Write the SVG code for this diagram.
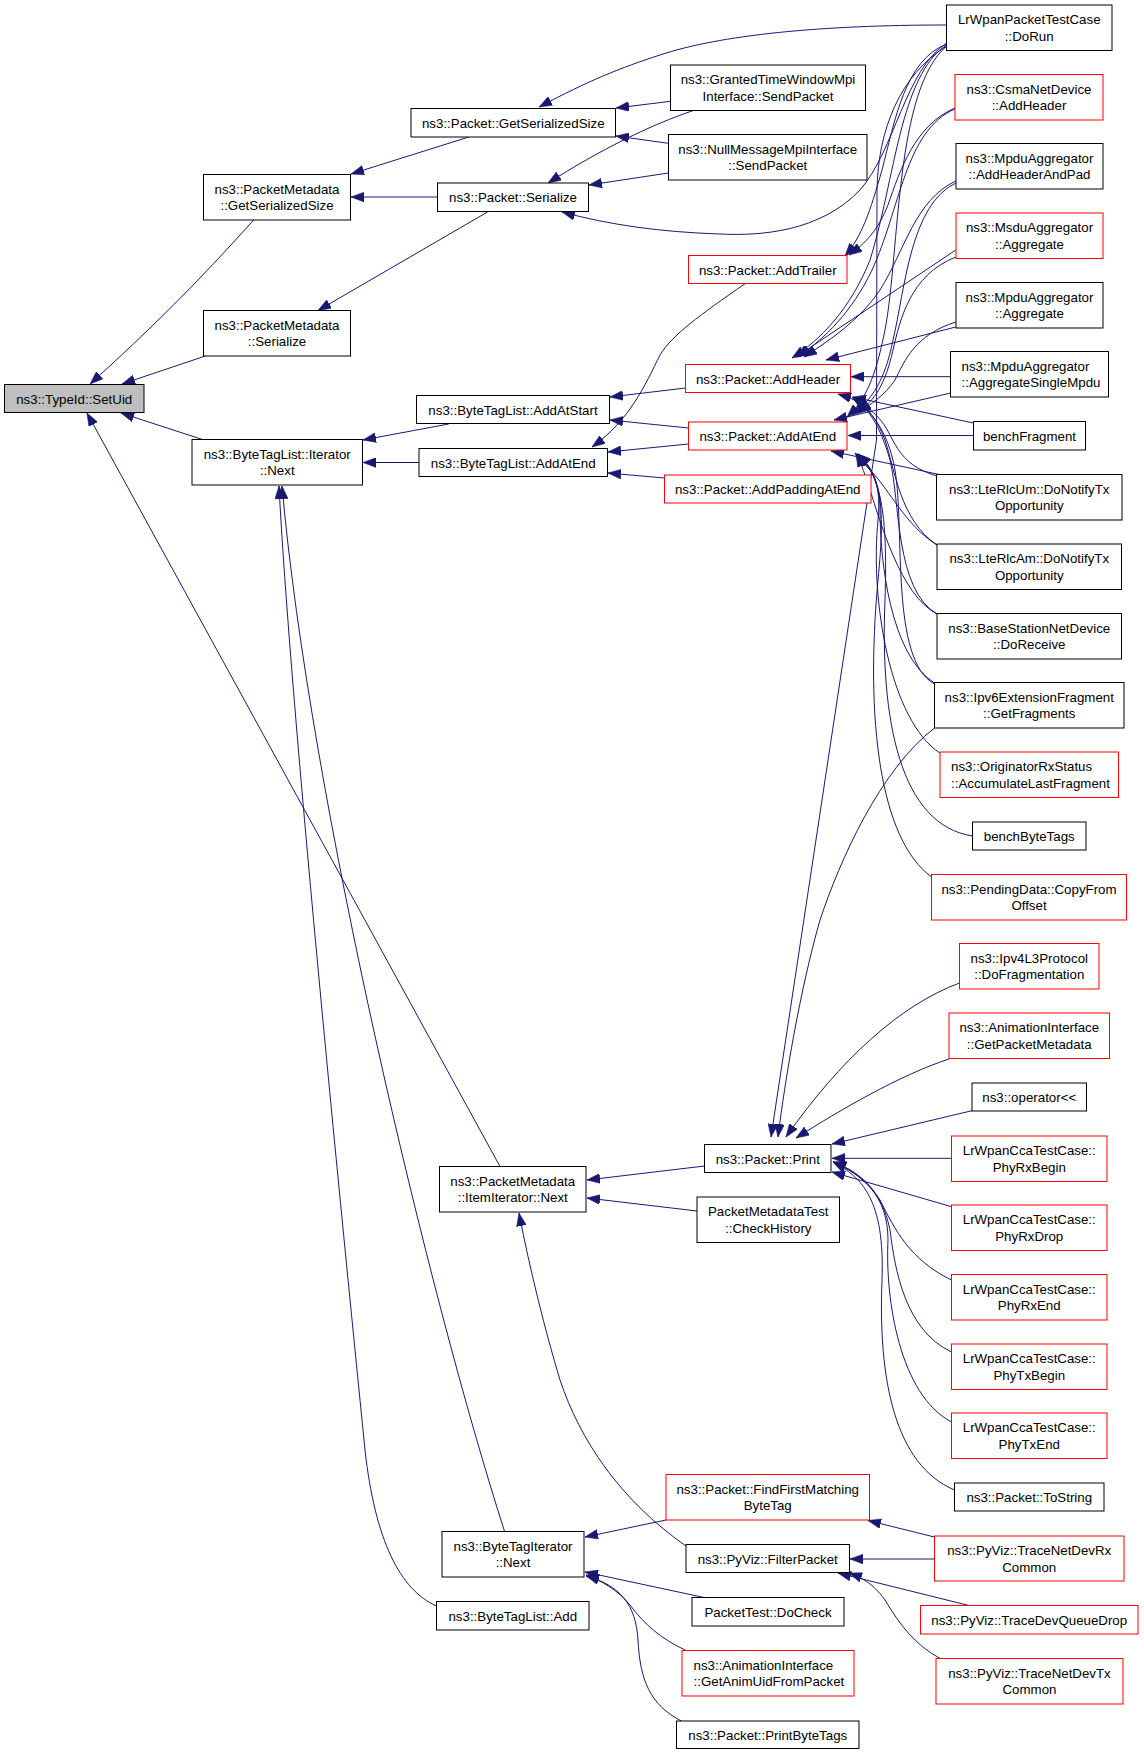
<svg xmlns="http://www.w3.org/2000/svg" width="1144" height="1755" viewBox="0 0 1144 1755">
<style>
.n rect{fill:#fff;stroke:#000;stroke-width:1}
.n.r rect{stroke:#f00}
.n text{font-family:"Liberation Sans",Arial,sans-serif;font-size:13.3px;fill:#000;text-anchor:middle}
.n text.l{text-anchor:start}
#edges path{fill:none;stroke:#191970;stroke-width:1;marker-end:url(#a)}
</style>
<defs>
<marker id="a" markerUnits="userSpaceOnUse" markerWidth="13" markerHeight="10" viewBox="0 0 12 9" refX="12" refY="4.5" orient="auto">
<path d="M0,0 L12,4.5 L0,9 z" fill="#191970" stroke="#191970" stroke-width="0.5"/>
</marker>
</defs>
<rect width="1144" height="1755" fill="#fff"/>
<g id="edges">
<path d="M253.6,220 C200,280 150,330 90,384"/>
<path d="M205.4,356 L122,384"/>
<path d="M204,440 L121,413"/>
<path d="M500,1166.5 L87,413"/>
<path d="M504.6,1531.5 C430,1300 310,800 282,486"/>
<path d="M436.5,1606 C400,1590 375,1540 365,1450 C340,1200 290,700 279,486"/>
<path d="M448.7,424 L363,440"/>
<path d="M419,462.5 L363,462.5"/>
<path d="M468.8,137 L351,174"/>
<path d="M437.5,197 L351,197"/>
<path d="M488,211.7 L318,310.5"/>
<path d="M946.7,25 C820,25 720,35 660,55 C620,68 590,80 539,107"/>
<path d="M670.5,101.3 L616,108"/>
<path d="M668.3,143.3 L616,136"/>
<path d="M694,110.3 C650,125 600,150 548,183"/>
<path d="M668.3,173 L589,185"/>
<path d="M946.7,43 C905,70 895,150 860,190 C820,232 760,236 720,234 C660,232 610,225 562,212"/>
<path d="M685.5,388 L610,397"/>
<path d="M688.4,428 L610,420"/>
<path d="M688.5,444 L608,452"/>
<path d="M664.3,478 L608,473"/>
<path d="M745,283.7 C700,315 672,335 660,355 C645,385 630,420 592,447"/>
<path d="M946.7,44 C905,60 895,120 882,170 C870,212 862,236 845,256"/>
<path d="M955,108 C915,125 900,170 888,205 C878,230 866,243 849,255"/>
<path d="M946.7,45 C900,75 895,180 870,260 C850,310 820,340 792,358"/>
<path d="M955,109 C905,130 900,210 872,270 C852,312 825,338 798,357"/>
<path d="M955.8,181 C915,200 905,250 880,290 C860,320 830,340 804,357"/>
<path d="M955.8,250 L796,357"/>
<path d="M955.8,327 L826,360"/>
<path d="M950.7,376.7 L851,376.7"/>
<path d="M973.3,423 L853,397"/>
<path d="M937,476 C910,468 900,455 890,435 C880,415 865,402 838,394"/>
<path d="M937,545 C900,520 895,470 885,440 C875,415 865,405 852,397"/>
<path d="M937,614 C895,590 900,500 890,460 C880,425 868,408 853,398"/>
<path d="M934.5,684 C890,660 905,530 895,470 C888,430 870,410 854,398"/>
<path d="M946.7,46 C895,90 900,250 885,330 C875,380 865,400 847,417"/>
<path d="M955.8,183 C910,205 905,290 893,340 C885,380 872,400 852,415"/>
<path d="M955.8,257 C910,275 900,320 893,350 C885,385 875,400 858,412"/>
<path d="M955.8,322 C915,335 905,360 895,380 C885,395 870,405 858,413"/>
<path d="M950.7,393 L834,420"/>
<path d="M973.3,435.5 L848,435.5"/>
<path d="M940,474.7 L831,451"/>
<path d="M937,545 C905,525 890,490 870,470 C865,465 860,458 855,453"/>
<path d="M937,614 C900,595 880,520 870,490 C865,475 862,465 856,454"/>
<path d="M934.5,683 C890,655 880,560 880,510 C880,480 868,465 857,454"/>
<path d="M939.8,753 C890,720 870,600 878,520 C882,480 870,465 857,454"/>
<path d="M972.6,836 C900,825 880,720 885,600 C888,510 880,475 858,454"/>
<path d="M931.7,877 C880,840 865,720 878,580 C886,500 880,475 858,454"/>
<path d="M946.7,46 C900,75 878,130 877,190 L876.5,440 L771,1137"/>
<path d="M934.5,728 C880,770 840,860 820,920 C800,990 785,1080 778,1137"/>
<path d="M959.5,983 C900,1005 840,1060 786,1137"/>
<path d="M949,1059 C900,1075 840,1110 796,1138"/>
<path d="M972,1110.7 L832,1144"/>
<path d="M951.5,1158.3 L832,1158.3"/>
<path d="M951.5,1206.7 L832,1172"/>
<path d="M951.5,1280 C910,1260 895,1230 880,1200 C865,1178 850,1168 833,1162"/>
<path d="M951.5,1352 C905,1330 895,1270 890,1230 C882,1190 860,1172 833,1162"/>
<path d="M951.5,1422 C900,1395 885,1300 888,1240 C888,1195 862,1175 833,1162"/>
<path d="M954.5,1490 C895,1465 878,1380 882,1280 C885,1200 862,1177 833,1162"/>
<path d="M704.5,1166 L587,1180"/>
<path d="M697,1211 L587,1198"/>
<path d="M686,1546 C620,1500 580,1440 560,1380 C545,1330 530,1270 519,1213"/>
<path d="M934.3,1537 L868,1520.5"/>
<path d="M934.3,1559 L850,1559"/>
<path d="M969.7,1605.7 L838,1573"/>
<path d="M940.5,1658.7 C915,1645 900,1625 885,1600 C872,1582 860,1577 849,1573"/>
<path d="M666,1520 L585,1537"/>
<path d="M705,1597.7 L585,1572"/>
<path d="M686,1650.5 C660,1638 645,1625 630,1605 C618,1590 600,1580 586,1575"/>
<path d="M681.5,1721 C650,1705 640,1680 638,1640 C636,1605 620,1585 586,1576"/>
</g>
<g id="n_setuid" class="n"><rect x="4.5" y="384.5" width="139.5" height="28" style="fill:#bfbfbf"/><text x="74.25" y="403.5">ns3::TypeId::SetUid</text></g>
<g id="n_pm_gss" class="n"><rect x="203.5" y="174.5" width="147" height="45.5"/><text x="277" y="193.5">ns3::PacketMetadata</text><text x="277" y="210">::GetSerializedSize</text></g>
<g id="n_pm_ser" class="n"><rect x="203.5" y="310.5" width="147" height="45.5"/><text x="277" y="329.5">ns3::PacketMetadata</text><text x="277" y="346">::Serialize</text></g>
<g id="n_btl_iter" class="n"><rect x="192" y="439.5" width="170.5" height="45.5"/><text x="277.25" y="458.5">ns3::ByteTagList::Iterator</text><text x="277.25" y="475">::Next</text></g>
<g id="n_pm_item" class="n"><rect x="439.5" y="1166.5" width="146.5" height="45.5"/><text x="512.75" y="1185.5">ns3::PacketMetadata</text><text x="512.75" y="1202">::ItemIterator::Next</text></g>
<g id="n_bti_next" class="n"><rect x="442" y="1531.5" width="142" height="45.5"/><text x="513" y="1550.5">ns3::ByteTagIterator</text><text x="513" y="1567">::Next</text></g>
<g id="n_btl_add" class="n"><rect x="436.5" y="1601.5" width="152.5" height="28.5"/><text x="512.75" y="1620.5">ns3::ByteTagList::Add</text></g>
<g id="n_p_gss" class="n"><rect x="411" y="108.5" width="204.5" height="28.5"/><text x="513.25" y="127.5">ns3::Packet::GetSerializedSize</text></g>
<g id="n_p_ser" class="n"><rect x="437.5" y="183" width="151" height="28.5"/><text x="513" y="202">ns3::Packet::Serialize</text></g>
<g id="n_btl_start" class="n"><rect x="416.5" y="395.5" width="193" height="28"/><text x="513" y="414.5">ns3::ByteTagList::AddAtStart</text></g>
<g id="n_btl_end" class="n"><rect x="419" y="448.5" width="188.5" height="28"/><text x="513.25" y="467.5">ns3::ByteTagList::AddAtEnd</text></g>
<g id="n_dorun" class="n"><rect x="946.5" y="5" width="165.5" height="45.5"/><text x="1029.25" y="24">LrWpanPacketTestCase</text><text x="1029.25" y="40.5">::DoRun</text></g>
<g id="n_gtw" class="n"><rect x="670.5" y="65" width="195" height="45.5"/><text x="768" y="84">ns3::GrantedTimeWindowMpi</text><text x="768" y="100.5">Interface::SendPacket</text></g>
<g id="n_null" class="n"><rect x="668.5" y="134.5" width="198.5" height="45.5"/><text x="767.75" y="153.5">ns3::NullMessageMpiInterface</text><text x="767.75" y="170">::SendPacket</text></g>
<g id="n_csma" class="n r"><rect x="955" y="74.5" width="148" height="45.5"/><text x="1029" y="93.5">ns3::CsmaNetDevice</text><text x="1029" y="110">::AddHeader</text></g>
<g id="n_ahap" class="n"><rect x="956" y="143.5" width="147" height="45.5"/><text x="1029.5" y="162.5">ns3::MpduAggregator</text><text x="1029.5" y="179">::AddHeaderAndPad</text></g>
<g id="n_msdu" class="n r"><rect x="956" y="213" width="147" height="45.5"/><text x="1029.5" y="232">ns3::MsduAggregator</text><text x="1029.5" y="248.5">::Aggregate</text></g>
<g id="n_mpdu" class="n"><rect x="956" y="282.5" width="147" height="45.5"/><text x="1029.5" y="301.5">ns3::MpduAggregator</text><text x="1029.5" y="318">::Aggregate</text></g>
<g id="n_asm" class="n"><rect x="950.5" y="351.5" width="158" height="45.5"/><text class="l" x="961.5" y="370.5">ns3::MpduAggregator</text><text class="l" x="961.5" y="387">::AggregateSingleMpdu</text></g>
<g id="n_benchfrag" class="n"><rect x="973.5" y="421.5" width="112" height="28.5"/><text x="1029.5" y="440.5">benchFragment</text></g>
<g id="n_trailer" class="n r"><rect x="688.5" y="255.5" width="158.5" height="28"/><text x="767.75" y="274.5">ns3::Packet::AddTrailer</text></g>
<g id="n_header" class="n r"><rect x="685.5" y="364.5" width="165" height="28"/><text x="768" y="383.5">ns3::Packet::AddHeader</text></g>
<g id="n_atend" class="n r"><rect x="688.5" y="422" width="158.5" height="28"/><text x="767.75" y="441">ns3::Packet::AddAtEnd</text></g>
<g id="n_padding" class="n r"><rect x="664.5" y="475" width="206.5" height="28"/><text x="767.75" y="494">ns3::Packet::AddPaddingAtEnd</text></g>
<g id="n_rlcum" class="n"><rect x="936.5" y="474.5" width="185.5" height="45.5"/><text x="1029.25" y="493.5">ns3::LteRlcUm::DoNotifyTx</text><text x="1029.25" y="510">Opportunity</text></g>
<g id="n_rlcam" class="n"><rect x="937" y="544" width="184.5" height="45.5"/><text x="1029.25" y="563">ns3::LteRlcAm::DoNotifyTx</text><text x="1029.25" y="579.5">Opportunity</text></g>
<g id="n_bsnd" class="n"><rect x="937" y="613.5" width="184.5" height="45.5"/><text x="1029.25" y="632.5">ns3::BaseStationNetDevice</text><text x="1029.25" y="649">::DoReceive</text></g>
<g id="n_ipv6" class="n"><rect x="934.5" y="682.5" width="189.5" height="45.5"/><text x="1029.25" y="701.5">ns3::Ipv6ExtensionFragment</text><text x="1029.25" y="718">::GetFragments</text></g>
<g id="n_orig" class="n r"><rect x="940" y="752" width="178.5" height="45.5"/><text class="l" x="951" y="771">ns3::OriginatorRxStatus</text><text class="l" x="951" y="787.5">::AccumulateLastFragment</text></g>
<g id="n_benchbt" class="n"><rect x="972.5" y="822" width="113.5" height="28"/><text x="1029.25" y="841">benchByteTags</text></g>
<g id="n_pending" class="n r"><rect x="931.5" y="874.5" width="195" height="45.5"/><text x="1029" y="893.5">ns3::PendingData::CopyFrom</text><text x="1029" y="910">Offset</text></g>
<g id="n_ipv4" class="n r"><rect x="959.5" y="943.5" width="139.5" height="45.5"/><text x="1029.25" y="962.5">ns3::Ipv4L3Protocol</text><text x="1029.25" y="979">::DoFragmentation</text></g>
<g id="n_anim_gpm" class="n r"><rect x="949" y="1013" width="160.5" height="45.5"/><text x="1029.25" y="1032">ns3::AnimationInterface</text><text x="1029.25" y="1048.5">::GetPacketMetadata</text></g>
<g id="n_oper" class="n"><rect x="972" y="1083" width="114.5" height="28"/><text x="1029.25" y="1102">ns3::operator&lt;&lt;</text></g>
<g id="n_print" class="n"><rect x="704.5" y="1144.5" width="126.5" height="28"/><text x="767.75" y="1163.5">ns3::Packet::Print</text></g>
<g id="n_checkhist" class="n"><rect x="697" y="1197" width="142.5" height="45.5"/><text x="768.25" y="1216">PacketMetadataTest</text><text x="768.25" y="1232.5">::CheckHistory</text></g>
<g id="n_rxbegin" class="n r"><rect x="951.5" y="1136" width="155.5" height="45.5"/><text x="1029.25" y="1155">LrWpanCcaTestCase::</text><text x="1029.25" y="1171.5">PhyRxBegin</text></g>
<g id="n_rxdrop" class="n r"><rect x="951.5" y="1205" width="155.5" height="45.5"/><text x="1029.25" y="1224">LrWpanCcaTestCase::</text><text x="1029.25" y="1240.5">PhyRxDrop</text></g>
<g id="n_rxend" class="n r"><rect x="951.5" y="1274.5" width="155.5" height="45.5"/><text x="1029.25" y="1293.5">LrWpanCcaTestCase::</text><text x="1029.25" y="1310">PhyRxEnd</text></g>
<g id="n_txbegin" class="n r"><rect x="951.5" y="1344" width="155.5" height="45.5"/><text x="1029.25" y="1363">LrWpanCcaTestCase::</text><text x="1029.25" y="1379.5">PhyTxBegin</text></g>
<g id="n_txend" class="n r"><rect x="951.5" y="1413" width="155.5" height="45.5"/><text x="1029.25" y="1432">LrWpanCcaTestCase::</text><text x="1029.25" y="1448.5">PhyTxEnd</text></g>
<g id="n_tostring" class="n"><rect x="954.5" y="1483" width="149.5" height="28"/><text x="1029.25" y="1502">ns3::Packet::ToString</text></g>
<g id="n_findfirst" class="n r"><rect x="666" y="1474.5" width="203.5" height="45.5"/><text x="767.75" y="1493.5">ns3::Packet::FindFirstMatching</text><text x="767.75" y="1510">ByteTag</text></g>
<g id="n_filter" class="n"><rect x="686" y="1544.5" width="163.5" height="28"/><text x="767.75" y="1563.5">ns3::PyViz::FilterPacket</text></g>
<g id="n_rxcommon" class="n r"><rect x="934.5" y="1536" width="189.5" height="45"/><text x="1029.25" y="1555">ns3::PyViz::TraceNetDevRx</text><text x="1029.25" y="1571.5">Common</text></g>
<g id="n_docheck" class="n"><rect x="692" y="1597.5" width="152" height="28.5"/><text x="768" y="1616.5">PacketTest::DoCheck</text></g>
<g id="n_qdrop" class="n r"><rect x="920.5" y="1605.5" width="217.5" height="28.5"/><text x="1029.25" y="1624.5">ns3::PyViz::TraceDevQueueDrop</text></g>
<g id="n_animuid" class="n r"><rect x="682" y="1650.5" width="172" height="45.5"/><text class="l" x="693.5" y="1669.5">ns3::AnimationInterface</text><text class="l" x="693.5" y="1686">::GetAnimUidFromPacket</text></g>
<g id="n_txcommon" class="n r"><rect x="936" y="1658.5" width="187" height="45.5"/><text x="1029.5" y="1677.5">ns3::PyViz::TraceNetDevTx</text><text x="1029.5" y="1694">Common</text></g>
<g id="n_printbt" class="n"><rect x="676.5" y="1721" width="182.5" height="27.5"/><text x="767.75" y="1739.5">ns3::Packet::PrintByteTags</text></g>
</svg>
